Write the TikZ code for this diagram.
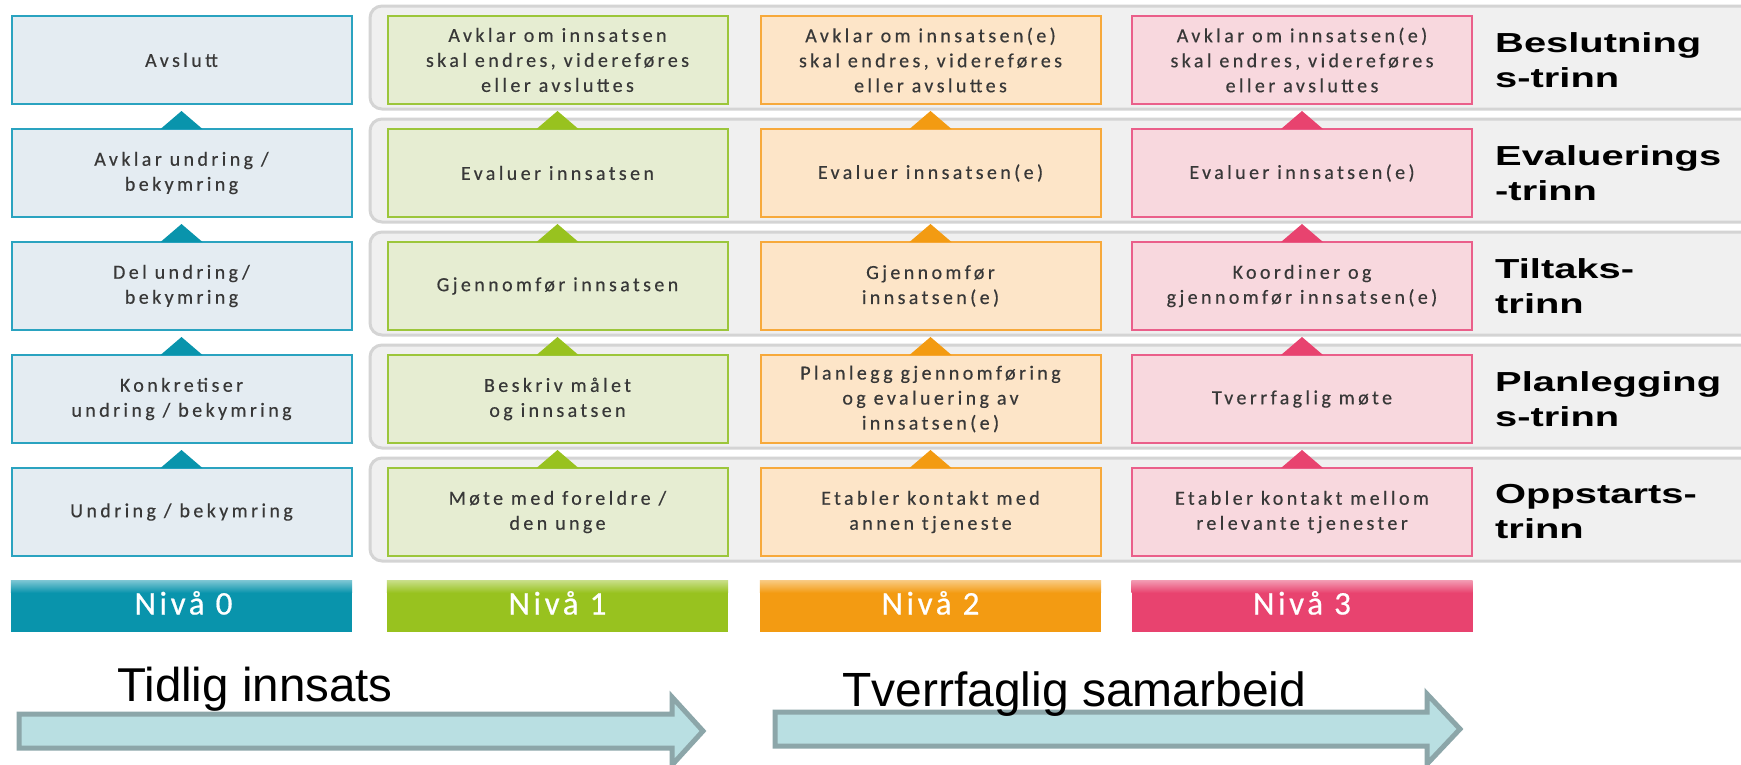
\documentclass[tikz,border=0pt]{standalone}
\usepackage{fontspec}
\newfontfamily\boxfont[LetterSpace=17,FakeBold=0.4]{Carlito}
\newfontfamily\nivafont[LetterSpace=11,FakeBold=0.6]{Carlito}
\newfontfamily\lblfont[FakeStretch=1.45]{Liberation Sans}
\newfontfamily\arialfont{Liberation Sans}
\usetikzlibrary{calc}
\definecolor{txtgray}{HTML}{383838}
\definecolor{cAline}{HTML}{2AA3C0}\definecolor{cAfill}{HTML}{E4ECF2}\definecolor{cAdark}{HTML}{0994AC}
\definecolor{cBline}{HTML}{9CC63B}\definecolor{cBfill}{HTML}{E6EDD2}\definecolor{cBdark}{HTML}{98C21F}
\definecolor{cCline}{HTML}{F7A93B}\definecolor{cCfill}{HTML}{FDE5C8}\definecolor{cCdark}{HTML}{F39B12}
\definecolor{cDline}{HTML}{EA5F8A}\definecolor{cDfill}{HTML}{F8D8DE}\definecolor{cDdark}{HTML}{E8436F}
\definecolor{panelfill}{HTML}{F0F0F0}\definecolor{panelline}{HTML}{D4D4D4}
\definecolor{arrowfill}{HTML}{B9DFE2}\definecolor{arrowline}{HTML}{8CA6A9}
\begin{document}
\begin{tikzpicture}[x=1pt,y=-1pt,
  box/.style={draw, line width=2pt, minimum width=340pt, minimum height=88pt, inner sep=0pt,
    align=center, text=txtgray, font={\boxfont\fontsize{20}{25}\selectfont}},
  bA/.style={box, draw=cAline, fill=cAfill},
  bB/.style={box, draw=cBline, fill=cBfill},
  bC/.style={box, draw=cCline, fill=cCfill},
  bD/.style={box, draw=cDline, fill=cDfill},
  triA/.style={fill=cAdark}, triB/.style={fill=cBdark}, triC/.style={fill=cCdark}, triD/.style={fill=cDdark},
  panel/.style={draw=panelline, fill=panelfill, line width=3pt, rounded corners=12pt},
  lbl/.style={anchor=west, align=left, inner sep=0pt, text=black, font={\lblfont\bfseries\fontsize{27.5}{35}\selectfont}},
  bar/.style={minimum width=341pt, minimum height=51pt, inner sep=0pt},
  nivatext/.style={anchor=base, inner sep=0pt, text=white, font={\nivafont\fontsize{33}{36}\selectfont}},
  bigarrow/.style={fill=arrowfill, draw=arrowline, line width=5pt, line join=miter},
  bigtext/.style={anchor=base west, inner sep=0pt, text=black}
]
\useasboundingbox (0,0) rectangle (1741,764);
\fill[white] (0,0) rectangle (1741,764);

% panels
\foreach \t in {16,129,242,355,468} {
  \draw[panel] (370,\t-10) rectangle (1770,\t+93);
}

% column 0
\node[bA] (A1) at (181.5,60) {Avslutt};
\node[bA] (A2) at (181.5,173) {Avklar undring /\\bekymring};
\node[bA] (A3) at (181.5,286) {Del undring/\\bekymring};
\node[bA] (A4) at (181.5,399) {Konkretiser\\undring / bekymring};
\node[bA] (A5) at (181.5,512) {Undring / bekymring};
% column 1
\node[bB] (B1) at (557.5,60) {Avklar om innsatsen\\skal endres, videreføres\\eller avsluttes};
\node[bB] (B2) at (557.5,173) {Evaluer innsatsen};
\node[bB] (B3) at (557.5,286) {Gjennomfør innsatsen};
\node[bB] (B4) at (557.5,399) {Beskriv målet\\og innsatsen};
\node[bB] (B5) at (557.5,512) {Møte med foreldre /\\den unge};
% column 2
\node[bC] (C1) at (930.5,60) {Avklar om innsatsen(e)\\skal endres, videreføres\\eller avsluttes};
\node[bC] (C2) at (930.5,173) {Evaluer innsatsen(e)};
\node[bC] (C3) at (930.5,286) {Gjennomfør\\innsatsen(e)};
\node[bC] (C4) at (930.5,399) {Planlegg gjennomføring\\og evaluering av\\innsatsen(e)};
\node[bC] (C5) at (930.5,512) {Etabler kontakt med\\annen tjeneste};
% column 3
\node[bD] (D1) at (1302,60) {Avklar om innsatsen(e)\\skal endres, videreføres\\eller avsluttes};
\node[bD] (D2) at (1302,173) {Evaluer innsatsen(e)};
\node[bD] (D3) at (1302,286) {Koordiner og\\gjennomfør innsatsen(e)};
\node[bD] (D4) at (1302,399) {Tverrfaglig møte};
\node[bD] (D5) at (1302,512) {Etabler kontakt mellom\\relevante tjenester};

% triangles (upward markers between steps)
\foreach \c in {A,B,C,D} {
  \foreach \r in {2,3,4,5} {
    \fill[tri\c] ($(\c\r.north)+(-21,1)$) -- ($(\c\r.north)+(0,-17)$) -- ($(\c\r.north)+(21,1)$) -- cycle;
  }
}

% step labels
\node[lbl] (L1) at (1495,60) {Beslutning\\s-trinn};
\node[lbl] (L2) at (1495,173) {Evaluerings\\-trinn};
\node[lbl] (L3) at (1495,286) {Tiltaks-\\trinn};
\node[lbl] (L4) at (1495,399) {Planlegging\\s-trinn};
\node[lbl] (L5) at (1495,512) {Oppstarts-\\trinn};

% level bars
\node[bar, fill=cAdark] (N0) at (181.5,606.5) {};
\node[bar, fill=cBdark] (N1) at (557.5,606.5) {};
\node[bar, fill=cCdark] (N2) at (930.5,606.5) {};
\node[bar, fill=cDdark] (N3) at (1302,606.5) {};
\foreach \n/\col in {N0/cAdark,N1/cBdark,N2/cCdark,N3/cDdark} {
  \shade[top color=\col!55!white, bottom color=\col] (\n.north west) rectangle ($(\n.north east)+(0,12)$);
}
\node[nivatext] (T0) at ($(N0.center)+(2,8)$) {Nivå 0};
\node[nivatext] (T1) at ($(N1.center)+(0,8)$) {Nivå 1};
\node[nivatext] (T2) at ($(N2.center)+(0,8)$) {Nivå 2};
\node[nivatext] (T3) at ($(N3.center)+(0,8)$) {Nivå 3};

% big arrows
\coordinate (P1) at (19,714);
\coordinate (P2) at (775,712);
\draw[bigarrow] (P1) -- ++(653,0) -- ++(0,-17) -- ++(31,34) -- ++(-31,34) -- ++(0,-17) -- ++(-653,0) -- cycle;
\draw[bigarrow] (P2) -- ++(652,0) -- ++(0,-18) -- ++(33,35) -- ++(-33,35) -- ++(0,-18) -- ++(-652,0) -- cycle;
\node[bigtext, font={\arialfont\fontsize{47.5}{56}\selectfont}] (TI) at (117,701) {Tidlig innsats};
\node[bigtext, font={\arialfont\fontsize{48}{56}\selectfont}] (TS) at (842,706) {Tverrfaglig samarbeid};
\end{tikzpicture}
\end{document}
